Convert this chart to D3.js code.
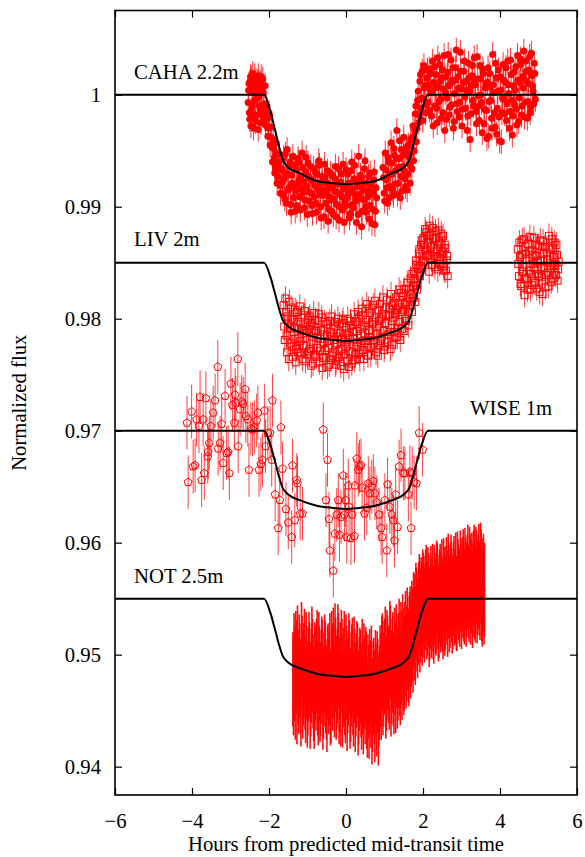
<!DOCTYPE html>
<html>
<head>
<meta charset="utf-8">
<script src="https://cdn.jsdelivr.net/npm/d3@7"></script>
<style>
  html, body { margin: 0; padding: 0; background: #fff; }
  svg { display: block; }
  text { font-family: "Liberation Serif", "Times New Roman", Times, "DejaVu Serif", serif; fill: #000; }
</style>
</head>
<body>
<svg id="chart" width="585" height="857"></svg>
<script>
// ---- Light curves: hours from predicted mid-transit vs normalized flux ----

// CAHA 2.2m
const cahaHours = [-2.54,-2.52,-2.50,-2.48,-2.46,-2.44,-2.42,-2.40,-2.38,-2.36,-2.34,-2.31,-2.29,-2.27,-2.25,-2.23,-2.21,-2.19,-2.16,-2.13,-2.10,
  -2.07,-2.04,-2.01,-1.98,-1.95,-1.92,-1.89,-1.86,-1.83,-1.80,-1.77,-1.74,-1.71,-1.68,
  -1.65,-1.62,-1.59,-1.56,-1.53,-1.50,-1.47,-1.44,-1.41,-1.38,-1.35,-1.32,-1.29,-1.26,-1.23,-1.20,-1.17,-1.14,-1.11,-1.08,-1.05,-1.02,-0.99,-0.96,-0.93,-0.90,-0.87,-0.84,-0.81,-0.78,-0.75,-0.72,-0.69,-0.66,-0.63,-0.60,-0.57,-0.54,-0.51,-0.48,-0.45,-0.42,-0.39,-0.36,-0.33,-0.30,-0.27,-0.24,-0.21,-0.18,-0.15,-0.12,-0.09,-0.06,-0.03,
  0.00,0.03,0.06,0.09,0.12,0.15,0.18,0.21,0.24,0.27,0.30,0.33,0.36,0.39,0.42,0.45,0.48,0.51,0.54,0.57,0.60,0.63,0.66,0.69,0.72,0.75,0.78,
  0.96,0.99,1.02,1.05,1.08,1.11,1.14,1.17,1.20,1.23,1.26,1.29,1.32,1.35,1.38,1.41,1.44,1.47,1.50,1.53,1.56,1.59,1.62,1.65,
  1.68,1.71,1.74,1.77,1.80,1.83,1.86,1.89,1.92,1.95,1.98,2.01,2.04,2.07,2.10,
  2.13,2.16,2.19,2.22,2.25,2.28,2.31,2.34,2.37,2.40,2.43,2.46,2.49,2.52,2.55,2.58,2.61,2.64,2.67,2.70,2.73,2.76,2.79,2.82,2.85,2.88,2.91,2.94,2.97,
  3.00,3.03,3.06,3.09,3.12,3.15,3.18,3.21,3.24,3.27,3.30,3.33,3.36,3.39,3.42,3.45,3.48,3.51,3.54,3.57,3.60,3.63,3.66,3.69,3.72,3.75,3.78,3.81,3.84,3.87,3.90,3.93,3.96,3.99,
  4.02,4.05,4.08,4.11,4.14,4.17,4.20,4.23,4.26,4.29,4.32,4.35,4.38,4.41,4.44,4.47,4.50,4.53,4.56,4.59,4.62,4.65,4.68,4.71,4.74,4.77,4.80,4.83,4.86,4.89,4.92,
  -2.53,-2.51,-2.49,-2.47,-2.45,-2.43,-2.41,-2.39,-2.37,-2.35,-2.33,-2.30,-2.28,-2.26,-2.24,-2.22,-2.20,-2.18,-2.15,-2.12,
  -2.09,-2.06,-2.03,-2.00,-1.97,-1.94,-1.91,-1.88,-1.85,-1.82,-1.79,-1.76,-1.73,-1.70,
  -1.665,-1.635,-1.605,-1.575,-1.545,-1.515,-1.485,-1.455,-1.425,-1.395,-1.365,-1.335,-1.305,-1.275,-1.245,-1.215,-1.185,-1.155,-1.125,-1.095,-1.065,-1.035,-1.005,-0.975,-0.945,-0.915,-0.885,-0.855,-0.825,-0.795,-0.765,-0.735,-0.705,-0.675,-0.645,-0.615,-0.585,-0.555,-0.525,-0.495,-0.465,-0.435,-0.405,-0.375,-0.345,-0.315,-0.285,-0.255,-0.225,-0.195,-0.165,-0.135,-0.105,-0.075,-0.045,-0.015,
  0.015,0.045,0.075,0.105,0.135,0.165,0.195,0.225,0.255,0.285,0.315,0.345,0.375,0.405,0.435,0.465,0.495,0.525,0.555,0.585,0.615,0.645,0.675,0.705,0.735,0.765,0.795,
  0.975,1.005,1.035,1.065,1.095,1.125,1.155,1.185,1.215,1.245,1.275,1.305,1.335,1.365,1.395,1.425,1.455,1.485,1.515,1.545,1.575,1.605,1.635,1.665,
  1.695,1.725,1.755,1.785,1.815,1.845,1.875,1.905,1.935,1.965,1.995,2.025,2.055,2.085,2.115,
  2.145,2.175,2.205,2.235,2.265,2.295,2.325,2.355,2.385,2.415,2.445,2.475,2.505,2.535,2.565,2.595,2.625,2.655,2.685,2.715,2.745,2.775,2.805,2.835,2.865,2.895,2.925,2.955,2.985,
  3.015,3.045,3.075,3.105,3.135,3.165,3.195,3.225,3.255,3.285,3.315,3.345,3.375,3.405,3.435,3.465,3.495,3.525,3.555,3.585,3.615,3.645,3.675,3.705,3.735,3.765,3.795,3.825,3.855,3.885,3.915,3.945,3.975,
  4.005,4.035,4.065,4.095,4.125,4.155,4.185,4.215,4.245,4.275,4.305,4.335,4.365,4.395,4.425,4.455,4.485,4.515,4.545,4.575,4.605,4.635,4.665,4.695,4.725,4.755,4.785,4.815,4.845,4.875,4.905];
const cahaFlux = [0.9993,1.0010,0.9978,1.0016,0.9986,1.0003,1.0019,0.9970,1.0008,0.9995,1.0013,0.9982,1.0006,1.0017,0.9990,1.0011,0.9975,1.0004,1.0014,0.9992,1.0008,
  0.9985,0.9979,0.9970,0.9981,0.9962,0.9953,0.9960,0.9944,0.9935,0.9948,0.9927,0.9940,0.9919,0.9933,
  0.9922,0.9944,0.9907,0.9930,0.9951,0.9915,0.9936,0.9902,0.9928,0.9945,0.9918,0.9896,0.9933,0.9920,0.9940,0.9909,0.9927,0.9948,0.9913,0.9899,0.9931,0.9918,0.9939,0.9905,0.9925,0.9912,0.9894,0.9934,0.9919,0.9903,0.9929,0.9915,0.9937,0.9900,0.9922,0.9910,0.9891,0.9926,0.9913,0.9932,0.9898,0.9917,0.9906,0.9928,0.9893,0.9914,0.9936,0.9902,0.9920,0.9888,0.9911,0.9929,0.9897,0.9916,0.9904,
  0.9933,0.9908,0.9921,0.9890,0.9914,0.9940,0.9902,0.9925,0.9911,0.9886,0.9918,0.9945,0.9907,0.9926,0.9896,0.9915,0.9934,0.9900,0.9921,0.9909,0.9889,0.9930,0.9913,0.9898,0.9924,0.9884,0.9917,
  0.9935,0.9912,0.9948,0.9924,0.9903,0.9940,0.9918,0.9957,0.9929,0.9910,0.9946,0.9932,0.9968,0.9921,0.9943,0.9908,0.9951,0.9936,0.9962,0.9925,0.9948,0.9915,0.9955,0.9938,
  0.9960,0.9934,0.9972,0.9950,0.9983,0.9958,0.9995,0.9975,1.0012,0.9988,1.0021,0.9996,1.0006,0.9984,1.0015,
  0.9993,1.0023,1.0004,0.9981,1.0030,1.0011,0.9990,1.0018,0.9975,1.0007,1.0027,0.9996,1.0015,0.9984,1.0035,1.0002,0.9978,1.0020,1.0008,0.9989,1.0031,1.0013,0.9970,1.0001,1.0024,0.9992,1.0016,0.9980,1.0038,
  1.0005,0.9987,1.0021,0.9998,1.0012,0.9968,1.0028,1.0003,0.9983,1.0017,0.9995,1.0033,1.0009,0.9974,1.0014,0.9990,1.0026,1.0000,0.9966,1.0019,0.9987,1.0010,0.9961,1.0024,0.9994,1.0007,0.9979,1.0036,1.0002,0.9971,1.0015,0.9988,1.0022,0.9959,
  1.0004,0.9984,1.0027,0.9996,1.0011,0.9977,1.0030,1.0001,0.9985,1.0018,0.9964,1.0008,0.9991,1.0025,0.9973,1.0013,0.9997,1.0032,0.9982,1.0016,1.0039,0.9993,1.0021,0.9979,1.0010,1.0034,0.9989,1.0017,1.0003,1.0028,0.9996,
  1.0004,0.9984,1.0012,0.9972,1.0015,0.9990,1.0006,0.9981,1.0017,0.9976,1.0001,1.0012,0.9969,0.9998,1.0009,0.9987,1.0016,0.9983,1.0002,0.9979,
  0.9973,0.9990,0.9963,0.9984,0.9955,0.9971,0.9940,0.9952,0.9930,0.9957,0.9921,0.9939,0.9947,0.9912,
  0.9934,0.9911,0.9925,0.9947,0.9903,0.9929,0.9917,0.9940,0.9895,0.9921,0.9908,0.9937,0.9914,0.9901,0.9943,0.9924,0.9897,0.9916,0.9935,0.9922,0.9906,0.9944,0.9893,0.9927,0.9913,0.9936,0.9901,0.9923,0.9909,0.9931,0.9895,0.9918,0.9941,0.9911,0.9890,0.9927,0.9915,0.9938,0.9903,0.9921,0.9887,0.9909,0.9930,0.9896,0.9919,0.9907,0.9925,0.9891,0.9913,0.9934,0.9900,0.9922,0.9909,0.9938,0.9886,0.9918,
  0.9901,0.9929,0.9912,0.9894,0.9932,0.9916,0.9899,0.9937,0.9905,0.9923,0.9893,0.9911,0.9928,0.9882,0.9920,0.9906,0.9941,0.9895,0.9914,0.9927,0.9901,0.9919,0.9885,0.9912,0.9931,0.9896,0.9908,
  0.9926,0.9905,0.9933,0.9917,0.9944,0.9908,0.9929,0.9939,0.9915,0.9952,0.9920,0.9943,0.9911,0.9935,0.9959,0.9927,0.9914,0.9946,0.9932,0.9918,0.9953,0.9929,0.9944,0.9921,
  0.9948,0.9962,0.9941,0.9968,0.9990,0.9970,1.0003,0.9982,1.0018,0.9997,0.9977,1.0026,1.0008,0.9991,1.0022,
  1.0009,0.9986,1.0019,1.0002,0.9972,1.0025,1.0006,0.9988,1.0033,0.9994,1.0012,0.9979,1.0022,1.0005,0.9968,1.0016,0.9997,1.0036,0.9982,1.0010,0.9991,1.0024,0.9976,1.0013,1.0040,0.9985,1.0006,0.9993,1.0021,
  0.9972,1.0011,1.0030,0.9988,1.0004,0.9981,1.0015,0.9960,1.0008,1.0026,0.9990,1.0012,0.9985,1.0034,0.9999,0.9977,1.0014,0.9993,1.0023,0.9974,1.0006,0.9986,1.0011,0.9963,1.0019,0.9995,0.9970,1.0009,0.9984,1.0028,0.9965,1.0003,0.9980,
  1.0016,0.9958,0.9997,1.0013,0.9983,1.0024,0.9992,1.0009,0.9970,1.0031,0.9995,0.9981,1.0020,1.0004,0.9987,1.0035,0.9976,1.0011,1.0027,0.9990,1.0006,0.9980,1.0030,1.0012,0.9994,1.0022,0.9984,1.0037,1.0008,0.9992,1.0019];
const cahaError = 0.0011;

// LIV 2m
const livHours = [-1.62,-1.59,-1.56,-1.53,-1.50,-1.47,-1.44,-1.41,-1.38,-1.35,-1.32,-1.29,-1.26,-1.23,-1.20,-1.17,-1.14,-1.11,-1.08,-1.05,-1.02,-0.99,-0.96,-0.93,-0.90,-0.87,-0.84,-0.81,-0.78,-0.75,-0.72,-0.69,-0.66,-0.63,-0.60,-0.57,-0.54,-0.51,-0.48,-0.45,-0.42,-0.39,-0.36,-0.33,-0.30,-0.27,-0.24,-0.21,-0.18,-0.15,-0.12,-0.09,-0.06,-0.03,
  0.00,0.03,0.06,0.09,0.12,0.15,0.18,0.21,0.24,0.27,0.30,0.33,0.36,0.39,0.42,0.45,0.48,0.51,0.54,0.57,0.60,0.63,0.66,0.69,0.72,0.75,0.78,0.81,0.84,0.87,0.90,0.93,0.96,0.99,
  1.02,1.05,1.08,1.11,1.14,1.17,1.20,1.23,1.26,1.29,1.32,1.35,1.38,1.41,1.44,1.47,1.50,1.53,1.56,1.59,1.62,1.65,1.68,1.71,1.74,1.77,1.80,1.83,1.86,1.89,1.92,1.95,1.98,
  2.01,2.04,2.07,2.10,2.13,2.16,2.19,2.22,2.25,2.28,2.31,2.34,2.37,2.40,2.43,2.46,2.49,2.52,2.55,2.58,2.61,2.64,
  4.46,4.49,4.52,4.55,4.58,4.61,4.64,4.67,4.70,4.73,4.76,4.79,4.82,4.85,4.88,4.91,4.94,4.97,5.00,5.03,5.06,5.09,5.12,5.15,5.18,5.21,5.24,5.27,5.30,5.33,5.36,5.39,5.42,5.45,5.48,5.51,
  -1.605,-1.575,-1.545,-1.515,-1.485,-1.455,-1.425,-1.395,-1.365,-1.335,-1.305,-1.275,-1.245,-1.215,-1.185,-1.155,-1.125,-1.095,-1.065,-1.035,-1.005,-0.975,-0.945,-0.915,-0.885,-0.855,-0.825,-0.795,-0.765,-0.735,-0.705,-0.675,-0.645,-0.615,-0.585,-0.555,-0.525,-0.495,-0.465,-0.435,-0.405,-0.375,-0.345,-0.315,-0.285,-0.255,-0.225,-0.195,-0.165,-0.135,-0.105,-0.075,-0.045,-0.015,
  0.015,0.045,0.075,0.105,0.135,0.165,0.195,0.225,0.255,0.285,0.315,0.345,0.375,0.405,0.435,0.465,0.495,0.525,0.555,0.585,0.615,0.645,0.675,0.705,0.735,0.765,0.795,0.825,0.855,0.885,0.915,0.945,0.975,
  1.005,1.035,1.065,1.095,1.125,1.155,1.185,1.215,1.245,1.275,1.305,1.335,1.365,1.395,1.425,1.455,1.485,1.515,1.545,1.575,1.605,1.635,1.665,1.695,1.725,1.755,1.785,1.815,1.845,1.875,1.905,1.935,1.965,1.995,
  2.025,2.055,2.085,2.115,2.145,2.175,2.205,2.235,2.265,2.295,2.325,2.355,2.385,2.415,2.445,2.475,2.505,2.535,2.565,2.595,2.625,
  4.475,4.505,4.535,4.565,4.595,4.625,4.655,4.685,4.715,4.745,4.775,4.805,4.835,4.865,4.895,4.925,4.955,4.985,5.015,5.045,5.075,5.105,5.135,5.165,5.195,5.225,5.255,5.285,5.315,5.345,5.375,5.405,5.435,5.465,5.495,5.525];
const livFlux = [0.9812,0.9781,0.9806,0.9770,0.9795,0.9815,0.9778,0.9800,0.9766,0.9791,0.9808,0.9773,0.9797,0.9783,0.9811,0.9769,0.9790,0.9776,0.9803,0.9762,0.9787,0.9799,0.9771,0.9794,0.9758,0.9784,0.9805,0.9768,0.9789,0.9774,0.9798,0.9761,0.9782,0.9801,0.9765,0.9786,0.9772,0.9795,0.9757,0.9780,0.9798,0.9763,0.9784,0.9770,0.9793,0.9759,0.9778,0.9800,0.9766,0.9787,0.9773,0.9796,0.9755,0.9779,
  0.9792,0.9762,0.9785,0.9771,0.9798,0.9760,0.9782,0.9804,0.9768,0.9789,0.9775,0.9801,0.9764,0.9786,0.9809,0.9772,0.9794,0.9780,0.9813,0.9767,0.9790,0.9805,0.9774,0.9797,0.9781,0.9816,0.9770,0.9793,0.9808,0.9776,0.9800,0.9784,0.9819,0.9772,
  0.9796,0.9810,0.9779,0.9803,0.9788,0.9822,0.9777,0.9801,0.9814,0.9783,0.9808,0.9792,0.9826,0.9781,0.9806,0.9820,0.9789,0.9813,0.9798,0.9832,0.9794,0.9818,0.9836,0.9806,0.9829,0.9842,0.9815,0.9848,0.9830,0.9858,0.9838,0.9866,0.9845,
  0.9872,0.9851,0.9877,0.9856,0.9868,0.9842,0.9875,0.9853,0.9881,0.9860,0.9846,0.9872,0.9855,0.9879,0.9849,0.9867,0.9858,0.9874,0.9843,0.9863,0.9852,0.9838,
  0.9862,0.9838,0.9855,0.9829,0.9870,0.9846,0.9821,0.9858,0.9835,0.9867,0.9843,0.9826,0.9861,0.9849,0.9872,0.9832,0.9856,0.9840,0.9865,0.9824,0.9852,0.9837,0.9869,0.9845,0.9828,0.9859,0.9841,0.9874,0.9850,0.9833,0.9863,0.9847,0.9868,0.9839,0.9857,0.9844,
  0.9793,0.9818,0.9785,0.9802,0.9764,0.9792,0.9810,0.9775,0.9799,0.9782,0.9761,0.9806,0.9770,0.9792,0.9780,0.9801,0.9764,0.9789,0.9807,0.9776,0.9768,0.9791,0.9802,0.9773,0.9796,0.9760,0.9787,0.9799,0.9766,0.9783,0.9804,0.9771,0.9790,0.9756,0.9779,0.9797,0.9765,0.9785,0.9774,0.9759,0.9788,0.9802,0.9767,0.9781,0.9797,0.9762,0.9784,0.9771,0.9795,0.9758,0.9782,0.9799,0.9768,0.9787,
  0.9775,0.9800,0.9757,0.9783,0.9794,0.9770,0.9788,0.9763,0.9797,0.9779,0.9806,0.9769,0.9791,0.9777,0.9803,0.9764,0.9787,0.9799,0.9775,0.9809,0.9783,0.9768,0.9795,0.9812,0.9778,0.9801,0.9786,0.9767,0.9798,0.9813,0.9780,0.9804,0.9789,
  0.9775,0.9802,0.9817,0.9786,0.9809,0.9773,0.9798,0.9812,0.9788,0.9805,0.9819,0.9784,0.9810,0.9797,0.9823,0.9791,0.9808,0.9826,0.9800,0.9815,0.9806,0.9827,0.9812,0.9822,0.9840,0.9819,0.9835,0.9852,0.9826,0.9845,0.9862,0.9847,0.9870,0.9852,
  0.9866,0.9880,0.9861,0.9874,0.9857,0.9883,0.9864,0.9848,0.9871,0.9856,0.9878,0.9862,0.9844,0.9869,0.9853,0.9876,0.9860,0.9847,0.9866,0.9843,0.9856,
  0.9849,0.9868,0.9831,0.9857,0.9842,0.9871,0.9836,0.9853,0.9826,0.9860,0.9873,0.9840,0.9830,0.9857,0.9845,0.9866,0.9827,0.9851,0.9838,0.9870,0.9846,0.9822,0.9858,0.9864,0.9839,0.9853,0.9829,0.9862,0.9845,0.9871,0.9836,0.9855,0.9848,0.9866,0.9834,0.9851];
const livError = 0.0011;

// WISE 1m
const wiseHours = [-4.13,-4.10,-4.01,-3.97,-3.92,-3.88,-3.82,-3.79,-3.75,-3.71,-3.68,-3.64,-3.59,-3.58,-3.55,-3.51,-3.45,-3.40,-3.33,-3.32,-3.27,-3.23,-3.19,-3.14,-3.10,-3.06,-3.03,-2.99,-2.95,-2.90,-2.88,-2.86,-2.81,-2.80,-2.75,-2.71,-2.67,-2.62,-2.60,-2.55,-2.52,-2.47,-2.43,-2.38,-2.32,-2.29,-2.26,-2.21,-2.17,-2.12,-2.09,-2.03,-1.97,-1.93,-1.91,-1.84,-1.76,-1.72,-1.69,-1.65,-1.56,-1.50,-1.41,-1.39,-1.33,-1.28,-1.26,-1.19,-1.13,
  -0.59,-0.52,-0.48,-0.44,-0.42,-0.33,-0.29,-0.24,-0.20,-0.17,-0.13,-0.07,-0.04,-0.01,0.02,0.06,0.08,0.13,0.16,0.22,0.23,0.28,0.32,0.35,0.39,0.42,0.48,0.54,0.58,0.62,0.67,0.71,0.75,0.80,0.86,0.91,0.94,1.01,1.06,1.08,1.14,1.19,1.23,1.26,1.29,1.34,1.38,1.43,1.49,1.53,1.62,1.66,1.69,1.72,1.77,1.83,1.90,1.99];
const wiseFlux = [0.9707,0.9654,0.9717,0.9668,0.9669,0.9710,0.9704,0.9730,0.9656,0.9710,0.9662,0.9729,0.9677,0.9681,0.9689,0.9704,0.9716,0.9727,0.9757,0.9684,0.9689,0.9706,0.9671,0.9731,0.9680,0.9681,0.9662,0.9742,0.9723,0.9707,0.9732,0.9725,0.9764,0.9686,0.9719,0.9726,0.9724,0.9737,0.9713,0.9710,0.9665,0.9702,0.9701,0.9703,0.9709,0.9716,0.9665,0.9670,0.9674,0.9718,0.9686,0.9698,0.9698,0.9674,0.9727,0.9643,0.9613,0.9638,0.9703,0.9666,0.9630,0.9618,0.9605,0.9669,0.9620,0.9656,0.9653,0.9626,0.9626,
  0.9701,0.9638,0.9674,0.9621,0.9593,0.9575,0.9608,0.9625,0.9638,0.9607,0.9623,0.9660,0.9625,0.9638,0.9605,0.9651,0.9632,0.9604,0.9625,0.9606,0.9651,0.9675,0.9665,0.9668,0.9669,0.9649,0.9626,0.9631,0.9653,0.9644,0.9650,0.9655,0.9644,0.9636,0.9625,0.9613,0.9605,0.9638,0.9593,0.9652,0.9632,0.9625,0.9620,0.9602,0.9643,0.9614,0.9668,0.9678,0.9662,0.9662,0.9643,0.9663,0.9613,0.9662,0.9654,0.9653,0.9698,0.9683];
const wiseError = 0.0024;

// NOT 2.5m
const notHours = [-1.38,-1.35,-1.32,-1.29,-1.26,-1.23,-1.20,-1.17,-1.14,-1.11,-1.08,-1.05,-1.02,-0.99,-0.96,-0.93,-0.90,-0.87,-0.84,-0.81,-0.78,-0.75,-0.72,-0.69,-0.66,-0.63,-0.60,-0.57,-0.54,-0.51,-0.48,-0.45,-0.42,-0.39,-0.36,-0.33,-0.30,-0.27,-0.24,-0.21,-0.18,-0.15,-0.12,-0.09,-0.06,-0.03,
  0.00,0.03,0.06,0.09,0.12,0.15,0.18,0.21,0.24,0.27,0.30,0.33,0.36,0.39,0.42,0.45,0.48,0.51,0.54,0.57,0.60,0.63,0.66,0.69,0.72,0.75,0.78,0.81,0.84,0.87,0.90,0.93,0.96,0.99,
  1.02,1.05,1.08,1.11,1.14,1.17,1.20,1.23,1.26,1.29,1.32,1.35,1.38,1.41,1.44,1.47,1.50,1.53,1.56,1.59,1.62,1.65,1.68,1.71,1.74,1.77,1.80,1.83,1.86,1.89,1.92,1.95,1.98,
  2.01,2.04,2.07,2.10,2.13,2.16,2.19,2.22,2.25,2.28,2.31,2.34,2.37,2.40,2.43,2.46,2.49,2.52,2.55,2.58,2.61,2.64,2.67,2.70,2.73,2.76,2.79,2.82,2.85,2.88,2.91,2.94,2.97,
  3.00,3.03,3.06,3.09,3.12,3.15,3.18,3.21,3.24,3.27,3.30,3.33,3.36,3.39,3.42,3.45,3.48,3.51,3.54,3.57,3.60,
  -1.365,-1.335,-1.305,-1.275,-1.245,-1.215,-1.185,-1.155,-1.125,-1.095,-1.065,-1.035,-1.005,-0.975,-0.945,-0.915,-0.885,-0.855,-0.825,-0.795,-0.765,-0.735,-0.705,-0.675,-0.645,-0.615,-0.585,-0.555,-0.525,-0.495,-0.465,-0.435,-0.405,-0.375,-0.345,-0.315,-0.285,-0.255,-0.225,-0.195,-0.165,-0.135,-0.105,-0.075,-0.045,-0.015,
  0.015,0.045,0.075,0.105,0.135,0.165,0.195,0.225,0.255,0.285,0.315,0.345,0.375,0.405,0.435,0.465,0.495,0.525,0.555,0.585,0.615,0.645,0.675,0.705,0.735,0.765,0.795,0.825,0.855,0.885,0.915,0.945,0.975,
  1.005,1.035,1.065,1.095,1.125,1.155,1.185,1.215,1.245,1.275,1.305,1.335,1.365,1.395,1.425,1.455,1.485,1.515,1.545,1.575,1.605,1.635,1.665,1.695,1.725,1.755,1.785,1.815,1.845,1.875,1.905,1.935,1.965,1.995,
  2.025,2.055,2.085,2.115,2.145,2.175,2.205,2.235,2.265,2.295,2.325,2.355,2.385,2.415,2.445,2.475,2.505,2.535,2.565,2.595,2.625,2.655,2.685,2.715,2.745,2.775,2.805,2.835,2.865,2.895,2.925,2.955,2.985,
  3.015,3.045,3.075,3.105,3.135,3.165,3.195,3.225,3.255,3.285,3.315,3.345,3.375,3.405,3.435,3.465,3.495,3.525,3.555,3.585];
const notFlux = [0.9478,0.9495,0.9466,0.9489,0.9502,0.9471,0.9486,0.9460,0.9493,0.9479,0.9499,0.9463,0.9484,0.9470,0.9496,0.9458,0.9481,0.9490,0.9465,0.9487,0.9474,0.9498,0.9461,0.9483,0.9469,0.9492,0.9457,0.9478,0.9488,0.9466,0.9484,0.9471,0.9495,0.9463,0.9486,0.9500,0.9468,0.9491,0.9475,0.9503,0.9462,0.9487,0.9498,0.9459,0.9482,0.9470,
  0.9494,0.9456,0.9479,0.9489,0.9464,0.9485,0.9470,0.9492,0.9455,0.9477,0.9486,0.9462,0.9482,0.9468,0.9490,0.9453,0.9475,0.9483,0.9458,0.9476,0.9449,0.9471,0.9484,0.9455,0.9473,0.9446,0.9468,0.9479,0.9443,0.9466,0.9477,0.9492,0.9470,0.9488,
  0.9501,0.9474,0.9493,0.9481,0.9506,0.9469,0.9490,0.9478,0.9500,0.9472,0.9494,0.9483,0.9508,0.9479,0.9497,0.9512,0.9488,0.9505,0.9494,0.9518,0.9499,0.9514,0.9503,0.9524,0.9508,0.9530,0.9515,0.9536,0.9521,0.9541,0.9526,0.9545,0.9532,
  0.9549,0.9535,0.9552,0.9538,0.9554,0.9531,0.9547,0.9539,0.9557,0.9534,0.9549,0.9541,0.9558,0.9536,0.9552,0.9544,0.9561,0.9538,0.9554,0.9546,0.9563,0.9540,0.9556,0.9548,0.9565,0.9543,0.9559,0.9550,0.9567,0.9545,0.9561,0.9552,0.9569,
  0.9547,0.9563,0.9554,0.9571,0.9549,0.9565,0.9556,0.9572,0.9551,0.9567,0.9558,0.9574,0.9553,0.9569,0.9560,0.9575,0.9555,0.9570,0.9549,0.9566,0.9558,
  0.9470,0.9483,0.9497,0.9462,0.9480,0.9494,0.9472,0.9505,0.9467,0.9486,0.9475,0.9496,0.9459,0.9482,0.9487,0.9469,0.9501,0.9476,0.9458,0.9483,0.9490,0.9470,0.9496,0.9464,0.9480,0.9489,0.9467,0.9494,0.9472,0.9455,0.9486,0.9479,0.9461,0.9497,0.9474,0.9485,0.9504,0.9466,0.9481,0.9495,0.9473,0.9460,0.9490,0.9477,0.9497,0.9463,
  0.9484,0.9472,0.9495,0.9458,0.9478,0.9491,0.9460,0.9481,0.9469,0.9488,0.9452,0.9474,0.9480,0.9457,0.9470,0.9486,0.9462,0.9479,0.9450,0.9467,0.9481,0.9459,0.9444,0.9470,0.9462,0.9480,0.9451,0.9472,0.9460,0.9484,0.9466,0.9495,0.9478,
  0.9490,0.9467,0.9498,0.9484,0.9475,0.9502,0.9480,0.9496,0.9471,0.9488,0.9503,0.9476,0.9495,0.9487,0.9505,0.9484,0.9500,0.9492,0.9515,0.9501,0.9510,0.9496,0.9519,0.9513,0.9518,0.9532,0.9519,0.9540,0.9527,0.9533,0.9548,0.9535,0.9541,0.9552,
  0.9539,0.9546,0.9556,0.9541,0.9549,0.9537,0.9555,0.9545,0.9538,0.9556,0.9543,0.9560,0.9547,0.9539,0.9557,0.9549,0.9545,0.9562,0.9541,0.9555,0.9551,0.9566,0.9544,0.9558,0.9553,0.9547,0.9564,0.9552,0.9546,0.9568,0.9555,0.9549,0.9562,
  0.9557,0.9570,0.9551,0.9563,0.9558,0.9574,0.9553,0.9566,0.9561,0.9548,0.9569,0.9556,0.9572,0.9552,0.9565,0.9559,0.9576,0.9554,0.9562,0.9551];
const notError = 0.0042;

// Fitted transit models, one per light curve
const modelHours = [-6, -2.13, -1.97, -1.84, -1.74, -1.645, -1.50, -1.20, -0.76, -0.33, 0, 0.33, 0.76, 1.20, 1.50, 1.645, 1.74, 1.84, 1.97, 2.13, 6];
const cahaModel = [1.0000, 1.0000, 0.9986, 0.9968, 0.9954, 0.9942, 0.9935, 0.9930, 0.9923, 0.9921, 0.9920, 0.9921, 0.9923, 0.9930, 0.9935, 0.9942, 0.9954, 0.9968, 0.9986, 1.0000, 1.0000];
const livModel  = [0.9850, 0.9850, 0.9838, 0.9822, 0.9809, 0.9799, 0.9793, 0.9788, 0.9783, 0.9781, 0.9780, 0.9781, 0.9783, 0.9788, 0.9793, 0.9799, 0.9809, 0.9822, 0.9838, 0.9850, 0.9850];
const wiseModel = [0.9700, 0.9700, 0.9688, 0.9672, 0.9659, 0.9649, 0.9643, 0.9638, 0.9633, 0.9631, 0.9630, 0.9631, 0.9633, 0.9638, 0.9643, 0.9649, 0.9659, 0.9672, 0.9688, 0.9700, 0.9700];
const notModel  = [0.9550, 0.9550, 0.9538, 0.9522, 0.9509, 0.9499, 0.9493, 0.9488, 0.9483, 0.9481, 0.9480, 0.9481, 0.9483, 0.9488, 0.9493, 0.9499, 0.9509, 0.9522, 0.9538, 0.9550, 0.9550];

// Axis ticks and labels
const xTicks = [-6, -4, -2, 0, 2, 4, 6];
const yTicks = [0.94, 0.95, 0.96, 0.97, 0.98, 0.99, 1.00];
const yTickLabels = ["0.94", "0.95", "0.96", "0.97", "0.98", "0.99", "1"];
const telescopes = ["CAHA 2.2m", "LIV 2m", "WISE 1m", "NOT 2.5m"];
const xTitle = "Hours from predicted mid-transit time";
const yTitle = "Normalized flux";

// ---- Drawing ----
const svg = d3.select("#chart");
const W = 585, H = 857;
const plot = { left: 115, right: 577, top: 10.5, bottom: 795 };
const red = "#ff0000";
const fontSize = 20.7;
const serif = "'Liberation Serif', 'Times New Roman', Times, 'DejaVu Serif', serif";

svg.append("rect").attr("width", W).attr("height", H).attr("fill", "#fff");

const x = d3.scaleLinear().domain([-6, 6]).range([plot.left, plot.right]);
const y = d3.scaleLinear().domain([0.93747, 1.00752]).range([plot.bottom, plot.top]);

const zip = (t, f) => t.map((v, i) => ({ t: v, f: f[i] }));
const caha = zip(cahaHours, cahaFlux);
const liv = zip(livHours, livFlux);
const wise = zip(wiseHours, wiseFlux);
const notData = zip(notHours, notFlux);

svg.append("defs").append("clipPath").attr("id", "plotclip")
  .append("rect").attr("x", plot.left).attr("y", plot.top)
  .attr("width", plot.right - plot.left).attr("height", plot.bottom - plot.top);

const g = svg.append("g").attr("clip-path", "url(#plotclip)");

function errorBars(data, err, width, opacity) {
  g.append("g").selectAll("line").data(data).join("line")
    .attr("x1", d => x(d.t)).attr("x2", d => x(d.t))
    .attr("y1", d => y(d.f - err)).attr("y2", d => y(d.f + err))
    .attr("stroke", red).attr("stroke-width", width).attr("stroke-opacity", opacity);
}

// error bars
errorBars(notData, notError, 1.6, 0.95);
errorBars(caha, cahaError, 1, 0.8);
errorBars(liv, livError, 1, 0.75);
errorBars(wise, wiseError, 1, 0.75);

// NOT points
g.append("g").selectAll("circle").data(notData).join("circle")
  .attr("cx", d => x(d.t)).attr("cy", d => y(d.f)).attr("r", 1)
  .attr("fill", red);

// CAHA filled circles
g.append("g").selectAll("circle").data(caha).join("circle")
  .attr("cx", d => x(d.t)).attr("cy", d => y(d.f)).attr("r", 3.5)
  .attr("fill", red);

// LIV open squares
const sq = 7;
g.append("g").selectAll("rect").data(liv).join("rect")
  .attr("x", d => x(d.t) - sq / 2).attr("y", d => y(d.f) - sq / 2)
  .attr("width", sq).attr("height", sq)
  .attr("fill", "none").attr("stroke", red).attr("stroke-width", 1);

// WISE open pentagons
const pentR = 4.2;
const pentPath = d3.line()(d3.range(5).map(k => {
  const a = -Math.PI / 2 + k * 2 * Math.PI / 5;
  return [pentR * Math.cos(a), pentR * Math.sin(a)];
})) + "Z";
g.append("g").selectAll("path").data(wise).join("path")
  .attr("d", pentPath)
  .attr("transform", d => `translate(${x(d.t)},${y(d.f)})`)
  .attr("fill", "none").attr("stroke", red).attr("stroke-width", 1);

// transit models
const modelLine = d3.line().x(d => x(d.t)).y(d => y(d.f)).curve(d3.curveMonotoneX);
[cahaModel, livModel, wiseModel, notModel].forEach(m => {
  g.append("path").datum(zip(modelHours, m))
    .attr("d", modelLine)
    .attr("fill", "none").attr("stroke", "#000").attr("stroke-width", 2);
});

// telescope labels
const labelPos = [
  { x: 134, y: 79 },
  { x: 134, y: 246 },
  { x: 470, y: 415 },
  { x: 134, y: 583 }
];
telescopes.forEach((name, i) => {
  svg.append("text").attr("x", labelPos[i].x).attr("y", labelPos[i].y)
    .attr("font-family", serif).attr("font-size", fontSize).text(name);
});

// axes
const tick = 7;
const axisStyle = sel => {
  sel.attr("font-family", serif);
  sel.select(".domain").remove();
  sel.selectAll("line").attr("stroke", "#000").attr("stroke-width", 1.2);
  sel.selectAll("text").attr("font-size", fontSize).attr("font-family", serif);
};

svg.append("g").attr("transform", `translate(0,${plot.bottom})`)
  .call(d3.axisBottom(x).tickValues(xTicks).tickSizeInner(-tick).tickSizeOuter(0)
    .tickPadding(18).tickFormat(d3.format("d")))
  .call(axisStyle);
svg.append("g").attr("transform", `translate(0,${plot.top})`)
  .call(d3.axisTop(x).tickValues(xTicks).tickSizeInner(-tick).tickSizeOuter(0).tickFormat(""))
  .call(axisStyle);
svg.append("g").attr("transform", `translate(${plot.left},0)`)
  .call(d3.axisLeft(y).tickValues(yTicks).tickSizeInner(-tick).tickSizeOuter(0)
    .tickPadding(14).tickFormat((d, i) => yTickLabels[i]))
  .call(axisStyle);
svg.append("g").attr("transform", `translate(${plot.right},0)`)
  .call(d3.axisRight(y).tickValues(yTicks).tickSizeInner(-tick).tickSizeOuter(0).tickFormat(""))
  .call(axisStyle);

// frame
svg.append("rect").attr("x", plot.left).attr("y", plot.top)
  .attr("width", plot.right - plot.left).attr("height", plot.bottom - plot.top)
  .attr("fill", "none").attr("stroke", "#000").attr("stroke-width", 1.6);

// axis titles
svg.append("text").attr("x", (plot.left + plot.right) / 2).attr("y", 851)
  .attr("text-anchor", "middle").attr("font-family", serif).attr("font-size", fontSize).text(xTitle);
svg.append("text")
  .attr("transform", `translate(26,${(plot.top + plot.bottom) / 2}) rotate(-90)`)
  .attr("text-anchor", "middle").attr("font-family", serif).attr("font-size", fontSize).text(yTitle);
</script>
</body>
</html>
